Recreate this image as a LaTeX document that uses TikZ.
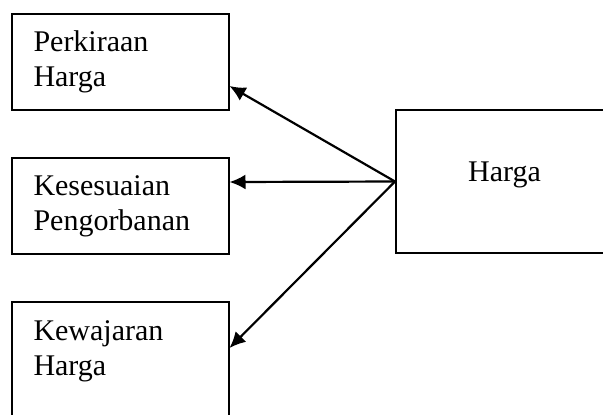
\documentclass[tikz,border=0pt]{standalone}
\usepackage{fontspec}
\setmainfont{Liberation Serif}
\usetikzlibrary{arrows.meta}

\begin{document}
\begin{tikzpicture}[
  x=0.5pt, y=-0.5pt, % pixel grid, y runs downwards
  indikator/.style={draw=black, line width=1pt, minimum width=108.5pt, minimum height=48pt,
    text width=86.5pt, inner xsep=11pt, align=left, font=\fontsize{15}{17.5}\selectfont},
  variabel/.style={draw=black, line width=1pt, minimum width=108.5pt, minimum height=71.5pt,
    text height=10pt, text depth=10.5pt, font=\fontsize{15}{17.5}\selectfont},
  panah/.style={draw, line width=1.1pt, -{Latex[length=8pt,width=7.5pt]}}
]
\useasboundingbox (0,0) rectangle (603,414);
\clip (0,0) rectangle (603,414);

% Indikator (left column)
\node[indikator] (perkiraan) at (120,62) {Perkiraan\\Harga};
\node[indikator] (kesesuaian) at (120,206) {Kesesuaian\\Pengorbanan};
\node[indikator, minimum height=64pt] (kewajaran) at (120,366) {Kewajaran\\Harga\\\mbox{}};

% Variabel (right)
\node[variabel] (harga) at (504.5,181.5) {Harga};

% Arrows
\draw[panah] (harga.west) -- ([yshift=-12pt]perkiraan.east);
\draw[panah] (harga.west) -- ([yshift=12pt]kesesuaian.east);
\draw[panah] (harga.west) -- ([yshift=9pt]kewajaran.east);

\end{tikzpicture}
\end{document}
